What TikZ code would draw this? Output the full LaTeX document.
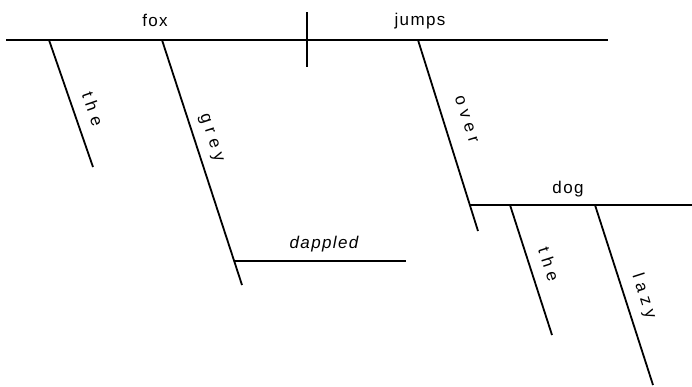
\documentclass[tikz,border=0pt]{standalone}
\usepackage{fontspec}
\setmainfont{Liberation Sans}
\begin{document}
\begin{tikzpicture}[x=1pt,y=1pt,
  rule/.style={line width=1.8pt,line cap=butt},
  word/.style={font=\fontsize{17}{20}\selectfont\addfontfeature{LetterSpace=8},inner sep=0pt,anchor=base},
  slant/.style={font=\fontsize{17}{20}\selectfont\addfontfeature{LetterSpace=32},inner sep=0pt,
     sloped,text depth=0pt}]
\useasboundingbox (0,0) rectangle (692,-386);
% coordinates
\coordinate (mainL) at (6,-40);
\coordinate (mainR) at (608,-40);
\coordinate (divT) at (307,-12);
\coordinate (divB) at (307,-67);
\coordinate (theA) at (49,-40);
\coordinate (theB) at (93,-167);
\coordinate (greyA) at (162,-40);
\coordinate (greyB) at (242,-285);
\coordinate (dapA) at (234,-261);
\coordinate (dapB) at (406,-261);
\coordinate (overA) at (418,-40);
\coordinate (overB) at (478,-231);
\coordinate (dogA) at (470,-205);
\coordinate (dogB) at (692,-205);
\coordinate (theTwoA) at (510,-205);
\coordinate (theTwoB) at (552,-335);
\coordinate (lazyA) at (595,-205);
\coordinate (lazyB) at (653,-385);
% lines
\draw[rule] (mainL) -- (mainR);
\draw[rule] (divT) -- (divB);
\draw[rule] (theA) -- node[slant,pos=0.59,above=12pt] (lthe) {the} (theB);
\draw[rule] (greyA) -- node[slant,pos=0.42,above=12pt] (lgrey) {grey} (greyB);
\draw[rule] (dapA) -- (dapB);
\draw[rule] (overA) -- node[slant,pos=0.45,above=17pt] (lover) {over} (overB);
\draw[rule] (dogA) -- (dogB);
\draw[rule] (theTwoA) -- node[slant,pos=0.5,above=12pt] (lthetwo) {the} (theTwoB);
\draw[rule] (lazyA) -- node[slant,pos=0.54,above=13pt] (llazy) {lazy} (lazyB);
% horizontal words
\node[word] (fox) at (155,-26) {fox};
\node[word] (jumps) at (420,-25.5) {jumps};
\node[word] (dog) at (568,-193) {dog};
\node[word,font=\fontsize{17}{20}\selectfont\itshape\addfontfeature{LetterSpace=8}] (dappled) at (324,-248) {dappled};
\end{tikzpicture}
\end{document}
